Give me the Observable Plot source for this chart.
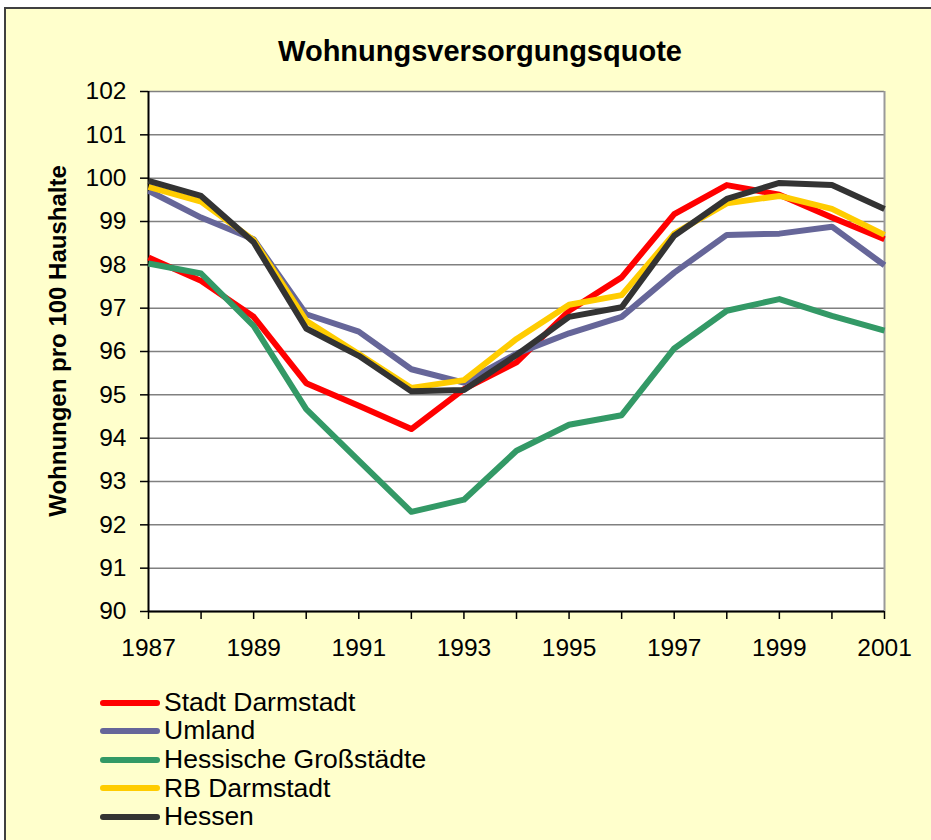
<!DOCTYPE html>
<html>
<head>
<meta charset="utf-8">
<script src="https://cdn.jsdelivr.net/npm/d3@7"></script>
<script src="https://cdn.jsdelivr.net/npm/@observablehq/plot@0.6"></script>
<style>
  html, body { margin: 0; padding: 0; background: #ffffff; width: 931px; height: 840px; overflow: hidden; }
  #panel { position: absolute; left: 4px; top: 7px; width: 940px; height: 850px; background: #FFFFCC; border-left: 2px solid #404040; border-top: 2px solid #404040; box-sizing: border-box; }
  #chart { position: absolute; left: 0; top: 0; }
  .txt { position: absolute; font-family: "Liberation Sans", Arial, sans-serif; color: #000; white-space: nowrap; }
  #title { left: 480px; top: 37px; transform: translateX(-50%); font-size: 29px; line-height: 29px; font-weight: bold; }
  #ylabel { left: 57.5px; top: 341px; transform: translate(-50%, -50%) rotate(-90deg); font-size: 24px; line-height: 24px; font-weight: bold; }
  .leg-line { position: absolute; left: 100px; width: 60px; height: 6px; border-radius: 3px; }
  .leg-text { position: absolute; left: 164px; font-size: 26.5px; line-height: 26px; }
</style>
</head>
<body>
<div id="panel"></div>
<div id="chart"></div>
<div class="txt" id="title">Wohnungsversorgungsquote</div>
<div class="txt" id="ylabel">Wohnungen pro 100 Haushalte</div>
<div id="legend"></div>
<script>
// ---- Data ----
const years = [1987, 1988, 1989, 1990, 1991, 1992, 1993, 1994, 1995, 1996, 1997, 1998, 1999, 2000, 2001];
const seriesNames = ["Stadt Darmstadt", "Umland", "Hessische Großstädte", "RB Darmstadt", "Hessen"];
const stadtDarmstadt = [98.17, 97.63, 96.80, 95.27, 94.75, 94.21, 95.13, 95.75, 96.94, 97.71, 99.17, 99.84, 99.62, 99.09, 98.59];
const umland = [99.71, 99.09, 98.59, 96.86, 96.46, 95.59, 95.28, 95.95, 96.42, 96.80, 97.82, 98.69, 98.72, 98.88, 97.99];
const hessischeGrossstaedte = [98.03, 97.80, 96.59, 94.67, 93.48, 92.30, 92.58, 93.71, 94.31, 94.53, 96.07, 96.94, 97.21, 96.82, 96.48];
const rbDarmstadt = [99.80, 99.46, 98.57, 96.71, 95.94, 95.16, 95.34, 96.29, 97.08, 97.30, 98.72, 99.42, 99.59, 99.29, 98.69];
const hessen = [99.94, 99.59, 98.52, 96.53, 95.90, 95.08, 95.11, 95.92, 96.80, 97.02, 98.67, 99.52, 99.89, 99.84, 99.29];
const seriesColors = ["#FF0000", "#666699", "#339966", "#FFCC00", "#333333"];
const yTicks = [90, 91, 92, 93, 94, 95, 96, 97, 98, 99, 100, 101, 102];
const xLabelYears = [1987, 1989, 1991, 1993, 1995, 1997, 1999, 2001];

const allValues = [stadtDarmstadt, umland, hessischeGrossstaedte, rbDarmstadt, hessen];
const rows = [];
seriesNames.forEach((name, i) => {
  years.forEach((yr, j) => rows.push({series: name, year: yr, value: allValues[i][j]}));
});

const plot = Plot.plot({
  width: 931,
  height: 700,
  marginLeft: 148,
  marginRight: 47,
  marginTop: 91,
  marginBottom: 89,
  style: {background: "transparent", fontFamily: "'Liberation Sans', Arial, sans-serif", fontSize: "24px", color: "#000"},
  x: {domain: [1987, 2001]},
  y: {domain: [90, 102]},
  color: {domain: seriesNames, range: seriesColors},
  marks: [
    Plot.frame({fill: "white", stroke: "none"}),
    Plot.gridY({ticks: yTicks, stroke: "#808080", strokeOpacity: 1, strokeWidth: 1.5}),
    Plot.ruleX([2001], {stroke: "#9a9a9a", strokeWidth: 2}),
    Plot.axisY({ticks: yTicks, tickSize: 8, tickPadding: 14, label: null, stroke: "#000", strokeWidth: 1.5, fontSize: 24.5}),
    Plot.axisX({ticks: years, tickFormat: d => xLabelYears.includes(d) ? String(d) : "", tickSize: 8, tickPadding: 19, label: null, stroke: "#000", strokeWidth: 1.5, fontSize: 24.5}),
    Plot.ruleX([1987], {stroke: "#000", strokeWidth: 2}),
    Plot.ruleY([90], {stroke: "#000", strokeWidth: 2}),
    Plot.line(rows, {x: "year", y: "value", z: "series", stroke: "series", strokeWidth: 6, strokeLinejoin: "round", strokeLinecap: "butt"})
  ]
});
document.getElementById("chart").appendChild(plot);

// ---- Legend ----
const legendY = [702.7, 730.7, 759.5, 788.3, 816.7];
const legend = document.getElementById("legend");
seriesNames.forEach((name, i) => {
  const line = document.createElement("div");
  line.className = "leg-line";
  line.style.top = (legendY[i] - 3) + "px";
  line.style.background = seriesColors[i];
  legend.appendChild(line);
  const t = document.createElement("div");
  t.className = "txt leg-text";
  t.style.top = (legendY[i] - 13.5) + "px";
  t.textContent = name;
  legend.appendChild(t);
});
</script>
</body>
</html>
